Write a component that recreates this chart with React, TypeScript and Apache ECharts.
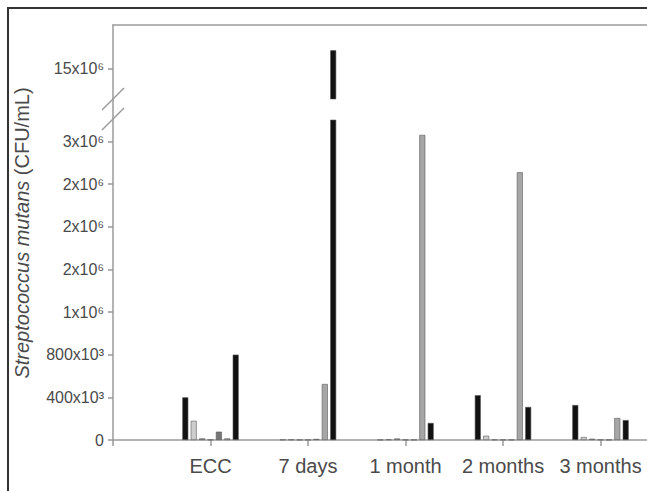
import React, { useEffect, useRef } from "react";
import * as echarts from "echarts";

const categories = ["", "ECC", "7 days", "1 month", "2 months", "3 months", ""];
const seriesNames = ["S1", "S2", "S3", "S4", "S5", "S6", "S7"];
const s1 = [null, 400000, 3000, 2000, 420000, 328000, null];
const s2 = [null, 180000, 4000, 5000, 40000, 28000, null];
const s3 = [null, 15000, 2000, 14000, 3000, 12000, null];
const s4 = [null, 3000, 2000, 3000, 2000, 3000, null];
const s5 = [null, 78000, 10000, 2000, 2000, 2000, null];
const s6 = [null, 15000, 525000, 2860000, 2510000, 206000, null];
const s7 = [null, 800000, 16800000, 160000, 310000, 187000, null];
const seriesData = [s1, s2, s3, s4, s5, s6, s7];
const seriesColors = ["#111111", "#cdcdcd", "#8a8a8a", "#f0f0f0", "#767676", "#a6a6a6", "#111111"];

const lowerTicks = [0, 400000, 800000, 1200000, 1600000, 2000000, 2400000, 2800000];
const upperTicks = [15000000];
const lowerMax = 3000000;
const upperMin = 12000000;
const upperMax = 19280000;

const fmt = (v: number) => {
  if (v === 0) return "0";
  if (v < 1000000) return `${Math.round(v / 1000)}x10³`;
  return `${Math.round(v / 1000000)}x10⁶`;
};

export default function App() {
  const ref = useRef<HTMLDivElement>(null);
  useEffect(() => {
    if (!ref.current) return;
    const chart = echarts.init(ref.current, null, { renderer: "svg" });
    const font = "Liberation Sans";
    const axisColor = "#9a9a9a";
    const textColor = "#4a4a4a";
    const series: any[] = [];
    [1, 0].forEach((gi) => {
      seriesData.forEach((d, i) => {
        series.push({
          type: "bar",
          name: seriesNames[i],
          xAxisIndex: gi,
          yAxisIndex: gi,
          data: d,
          barWidth: 6,
          barGap: "40%",
          clip: true,
          itemStyle: {
            color: seriesColors[i],
            borderColor: "#5a5a5a",
            borderWidth: 0.6,
          },
        });
      });
    });
    chart.setOption({
      animation: false,
      backgroundColor: "#ffffff",
      grid: [
        { left: 113, width: 585, top: 120, bottom: 51, containLabel: false, outerBoundsMode: "none" },
        { left: 113, width: 585, top: 25, bottom: 392, containLabel: false, outerBoundsMode: "none" },
      ],
      xAxis: [
        {
          type: "category",
          gridIndex: 0,
          data: categories,
          boundaryGap: false,
          axisLine: { lineStyle: { color: axisColor, width: 1.5 } },
          axisTick: { show: true, length: 6, lineStyle: { color: axisColor, width: 1.5 } },
          axisLabel: {
            color: textColor,
            fontFamily: font,
            fontSize: 20,
            margin: 16,
            interval: 0,
          },
          splitLine: { show: false },
        },
        {
          type: "category",
          gridIndex: 1,
          data: categories,
          boundaryGap: false,
          position: "top",
          axisLine: { lineStyle: { color: axisColor, width: 1.5 } },
          axisTick: { show: false },
          axisLabel: { show: false },
          splitLine: { show: false },
        },
      ],
      yAxis: [
        {
          type: "value",
          gridIndex: 0,
          min: 0,
          max: lowerMax,
          axisLine: { show: true, lineStyle: { color: axisColor, width: 1.5 } },
          axisTick: {
            show: true,
            length: 5,
            customValues: lowerTicks,
            lineStyle: { color: axisColor, width: 1.5 },
          },
          axisLabel: {
            customValues: lowerTicks,
            formatter: (v: number) => fmt(v),
            color: textColor,
            fontFamily: font,
            fontSize: 16,
            margin: 9,
          },
          splitLine: { show: false },
        },
        {
          type: "value",
          gridIndex: 1,
          min: upperMin,
          max: upperMax,
          axisLine: { show: true, lineStyle: { color: axisColor, width: 1.5 } },
          axisTick: {
            show: true,
            length: 5,
            customValues: upperTicks,
            lineStyle: { color: axisColor, width: 1.5 },
          },
          axisLabel: {
            customValues: upperTicks,
            formatter: (v: number) => fmt(v),
            color: textColor,
            fontFamily: font,
            fontSize: 16,
            margin: 9,
          },
          splitLine: { show: false },
        },
      ],
      series,
      graphic: [
        {
          type: "line",
          shape: { x1: 113, y1: 99, x2: 113, y2: 120 },
          style: { stroke: axisColor, lineWidth: 1.5 },
        },
        {
          type: "line",
          shape: { x1: 102, y1: 110, x2: 124, y2: 88 },
          style: { stroke: axisColor, lineWidth: 1.5 },
        },
        {
          type: "line",
          shape: { x1: 102, y1: 130, x2: 124, y2: 108 },
          style: { stroke: axisColor, lineWidth: 1.5 },
        },
        {
          type: "line",
          shape: { x1: 8, y1: 7, x2: 8, y2: 491 },
          style: { stroke: "#333333", lineWidth: 2 },
        },
        {
          type: "line",
          shape: { x1: 7, y1: 8, x2: 647, y2: 8 },
          style: { stroke: "#333333", lineWidth: 2 },
        },
        {
          type: "text",
          x: 22,
          y: 233,
          rotation: Math.PI / 2,
          style: {
            text: "{i|Streptococcus mutans} (CFU/mL)",
            rich: {
              i: { fontStyle: "italic", fontSize: 20, fontFamily: font, fill: textColor },
            },
            fontSize: 20,
            fontFamily: font,
            fill: textColor,
            align: "center",
            verticalAlign: "middle",
          },
        },
      ],
    });
    return () => chart.dispose();
  }, []);
  return (
    <div
      ref={ref}
      style={{ position: "fixed", left: 0, top: 0, width: 647, height: 491 }}
    />
  );
}
